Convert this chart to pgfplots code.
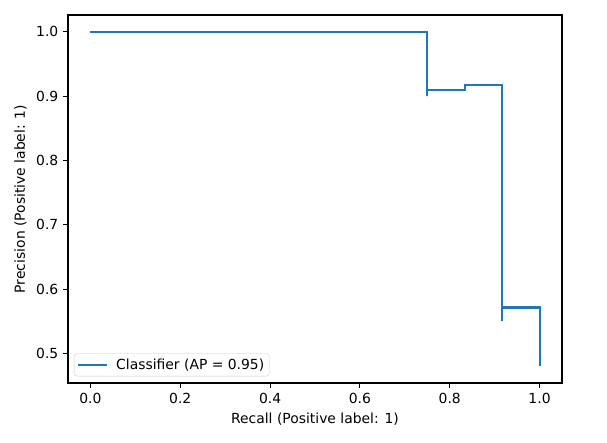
\documentclass[border=0pt]{standalone}
\usepackage{fontspec}
\setmainfont{DejaVu Sans}
\usepackage{pgfplots}
\pgfplotsset{compat=1.18}
\definecolor{C0}{HTML}{1F77B4}
\begin{document}
\fontsize{13.9}{16}\selectfont
\begin{tikzpicture}
\path[use as bounding box] (-68pt,-59pt) rectangle (539pt,383pt);
\begin{axis}[
  at={(0,0)}, anchor=south west,
  scale only axis,
  width=494pt, height=368pt,
  xmin=-0.05, xmax=1.05,
  ymin=0.454, ymax=1.026,
  xtick={0,0.2,0.4,0.6,0.8,1.0},
  ytick={0.5,0.6,0.7,0.8,0.9,1.0},
  /pgf/number format/assume math mode=true,
  /pgf/number format/fixed,
  /pgf/number format/fixed zerofill,
  /pgf/number format/precision=1,
  tick align=outside,
  major tick length=4.9pt,
  tick style={black, line width=1.1pt},
  xtick pos=bottom, ytick pos=left,
  axis line style={black, line width=1.1pt},
  ticklabel style={font=\fontsize{13.9}{16}\selectfont},
  xlabel={Recall (Positive label: 1)},
  ylabel={Precision (Positive label: 1)},
  label style={font=\fontsize{13.9}{16}\selectfont},
  legend style={at={(0.012,0.018)}, anchor=south west, draw=black!20, rounded corners=3pt, font=\fontsize{13.9}{16}\selectfont, inner sep=3pt},
  legend cell align=left,
  legend image code/.code={\draw[#1] (0pt,0pt) -- (29pt,0pt); \path (35pt,0pt);},
]
\addplot[C0, line width=2.1pt, const plot] coordinates {
  (1.0,0.48) (1.0,0.5714) (0.9167,0.55) (0.9167,0.9167)
  (0.8333,0.9091) (0.75,0.9) (0.75,1.0) (0.0,1.0)
};
\addlegendentry{Classifier (AP = 0.95)}
\end{axis}
\end{tikzpicture}
\end{document}
